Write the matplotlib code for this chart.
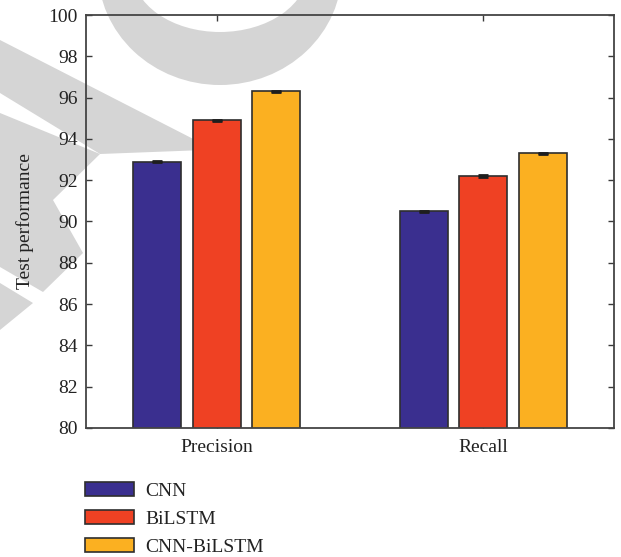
import numpy as np
import matplotlib
matplotlib.use("Agg")
import matplotlib.pyplot as plt
from matplotlib.patches import Polygon, Ellipse

plt.rcParams['font.family'] = ['Liberation Serif', 'DejaVu Serif']

# test scores per metric for each model
metrics = ['Precision', 'Recall']
models = ['CNN', 'BiLSTM', 'CNN-BiLSTM']
cnn = [92.9, 90.5]
bilstm = [94.9, 92.2]
cnn_bilstm = [96.3, 93.3]
errors = [0.03, 0.03]
colors = ['#3a2f8f', '#ef4123', '#fbb021']

W, H = 621, 557
fig = plt.figure(figsize=(W / 100, H / 100), dpi=100)

# light grey lettering behind the chart (pixel coords, y measured from top)
grey = '#d5d5d5'
def px(pts):
    return [(x / W, 1 - y / H) for x, y in pts]

watermark = [
    [(0, 40), (205, 145), (205, 150), (100, 154), (0, 93)],
    [(0, 113), (100, 154), (53, 200), (83, 253), (43, 292), (0, 267)],
    [(0, 283), (33, 303), (0, 330)],
]
for shape in watermark:
    fig.patches.append(Polygon(px(shape), closed=True, transform=fig.transFigure,
                               facecolor=grey, edgecolor='none', zorder=-5))
fig.patches.append(Ellipse((220 / W, 1 + 30 / H), 244 / W, 230 / H,
                           transform=fig.transFigure, facecolor=grey,
                           edgecolor='none', zorder=-5))
fig.patches.append(Ellipse((220 / W, 1 + 30 / H), 176 / W, 124 / H,
                           transform=fig.transFigure, facecolor='white',
                           edgecolor='none', zorder=-4))

ax = fig.add_axes([86 / W, 1 - 428 / H, 528 / W, 413 / H])
ax.patch.set_alpha(0)

x = np.arange(len(metrics))
offset = 0.223
width = 0.18
series = [cnn, bilstm, cnn_bilstm]
for i, (vals, name, c) in enumerate(zip(series, models, colors)):
    pos = x + (i - 1) * offset
    ax.bar(pos, vals, width, color=c, edgecolor='#2e2e2e', linewidth=1.2,
           label=name, zorder=2)
    ax.errorbar(pos, vals, yerr=errors, fmt='none', ecolor='#1e1e1e',
                elinewidth=1, capsize=3.3, capthick=2, zorder=3)

ax.set_xlim(-0.49, 1.49)
ax.set_ylim(80, 100)
ax.set_yticks(np.arange(80, 101, 2))
ax.set_xticks(x)
ax.set_xticklabels(metrics)
ax.tick_params(axis='both', direction='in', length=4.5, width=1,
               colors='#3a3a3a', labelcolor='#222222', labelsize=14,
               top=True, right=True)
ax.tick_params(axis='y', pad=6)
ax.tick_params(axis='x', pad=8)
for s in ax.spines.values():
    s.set_color('#444444')
    s.set_linewidth(1.3)
ax.set_ylabel('Test performance', fontsize=14, color='#222222', labelpad=10)

fig.legend(loc='upper left', bbox_to_anchor=(85 / W, 1 - 482 / H),
           frameon=False, fontsize=14, handlelength=2.5, handleheight=0.7,
           handletextpad=0.6, labelspacing=0.54, borderpad=0, borderaxespad=0,
           labelcolor='#222222')

fig.savefig('out.png', dpi=100)
